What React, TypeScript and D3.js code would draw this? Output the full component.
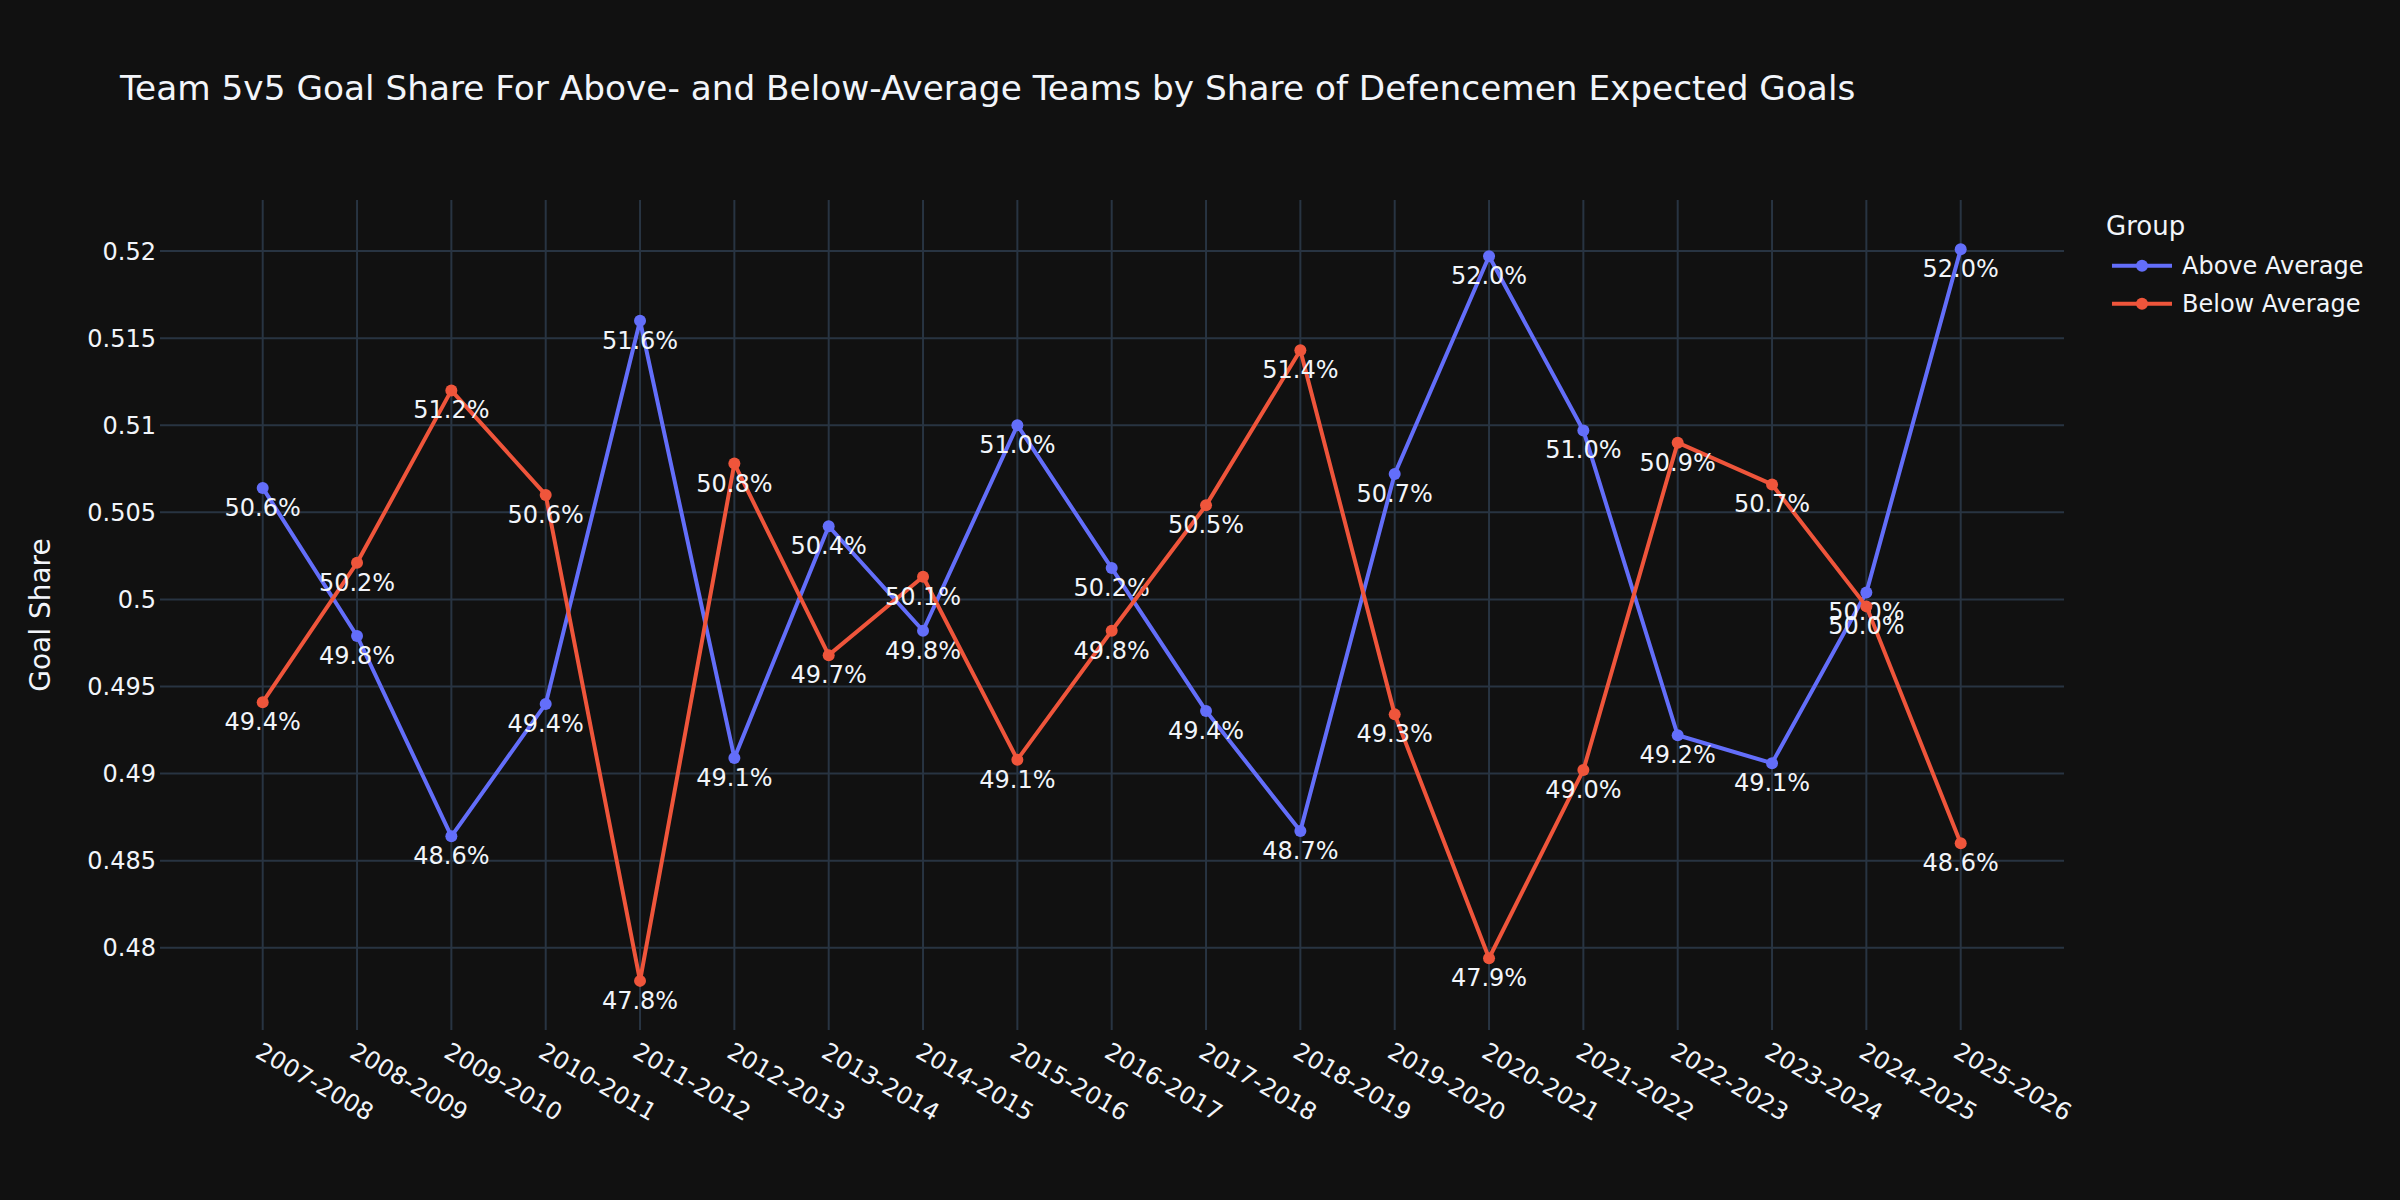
import React, { useEffect } from "react";
import * as d3 from "d3";

const seasons = [
  "2007-2008", "2008-2009", "2009-2010", "2010-2011", "2011-2012", "2012-2013",
  "2013-2014", "2014-2015", "2015-2016", "2016-2017", "2017-2018", "2018-2019",
  "2019-2020", "2020-2021", "2021-2022", "2022-2023", "2023-2024", "2024-2025", "2025-2026",
];
const aboveAverage = [
  0.5064, 0.4979, 0.4864, 0.494, 0.516, 0.4909, 0.5042, 0.4982, 0.51, 0.5018,
  0.4936, 0.4867, 0.5072, 0.5197, 0.5097, 0.4922, 0.4906, 0.5004, 0.5201,
];
const belowAverage = [
  0.4941, 0.5021, 0.512, 0.506, 0.4781, 0.5078, 0.4968, 0.5013, 0.4908, 0.4982,
  0.5054, 0.5143, 0.4934, 0.4794, 0.4902, 0.509, 0.5066, 0.4996, 0.486,
];
const seriesNames = ["Above Average", "Below Average"];
const seriesColors = ["#636efa", "#EF553B"];
const titleText =
  "Team 5v5 Goal Share For Above- and Below-Average Teams by Share of Defencemen Expected Goals";
const yTitle = "Goal Share";
const legendTitle = "Group";

const W = 2400;
const H = 1200;
const plot = { left: 160, right: 2064, top: 200, bottom: 1030 };
const FONT = "'DejaVu Sans', Verdana, sans-serif";
const TEXT = "#f2f5fa";
const GRID = "#283442";

export default function App() {
  useEffect(() => {
    document.body.style.margin = "0";
    document.body.style.background = "#111111";
  }, []);

  const x = d3
    .scalePoint<string>()
    .domain(seasons)
    .range([262.7, 1960.7]);
  const y = d3.scaleLinear().domain([0.47528, 0.52293]).range([plot.bottom, plot.top]);
  const yTicks = y.ticks(10);
  const fmtTick = d3.format("~g");
  const fmtPct = d3.format(".1%");

  const series = [aboveAverage, belowAverage];
  const line = d3
    .line<number>()
    .x((_, i) => x(seasons[i]) as number)
    .y((d) => y(d));

  return (
    <svg width={W} height={H} style={{ display: "block", background: "#111111" }} fontFamily={FONT}>
      <rect x={0} y={0} width={W} height={H} fill="#111111" />
      {/* grid */}
      <g>
        {seasons.map((s) => (
          <line key={s} x1={x(s)} x2={x(s)} y1={plot.top} y2={plot.bottom} stroke={GRID} strokeWidth={2} />
        ))}
        {yTicks.map((t) => (
          <line key={t} x1={plot.left} x2={plot.right} y1={y(t)} y2={y(t)} stroke={GRID} strokeWidth={2} />
        ))}
      </g>
      {/* y tick labels */}
      <g fill={TEXT} fontSize={24} textAnchor="end">
        {yTicks.map((t) => (
          <text key={t} x={156} y={y(t)} dy="0.36em">
            {fmtTick(t)}
          </text>
        ))}
      </g>
      {/* x tick labels */}
      <g fill={TEXT} fontSize={24}>
        {seasons.map((s) => (
          <text key={s} transform={`translate(${x(s)},${plot.bottom + 11}) rotate(30)`} x={0} y={17.5} textAnchor="start">
            {s}
          </text>
        ))}
      </g>
      {/* y title */}
      <text
        transform={`translate(50,${(plot.top + plot.bottom) / 2}) rotate(-90)`}
        textAnchor="middle"
        fontSize={28}
        fill={TEXT}
      >
        {yTitle}
      </text>
      {/* title */}
      <text x={120} y={100} fontSize={34.3} fill={TEXT}>
        {titleText}
      </text>
      {/* series */}
      {series.map((vals, si) => (
        <g key={si}>
          <path d={line(vals) || ""} fill="none" stroke={seriesColors[si]} strokeWidth={4} strokeLinejoin="round" />
          {vals.map((v, i) => (
            <circle key={i} cx={x(seasons[i])} cy={y(v)} r={6} fill={seriesColors[si]} />
          ))}
          {vals.map((v, i) => (
            <text key={"t" + i} x={x(seasons[i])} y={y(v) + 28} textAnchor="middle" fontSize={24} fill={TEXT}>
              {fmtPct(v)}
            </text>
          ))}
        </g>
      ))}
      {/* legend */}
      <g>
        <text x={2106} y={235} fontSize={26} fill={TEXT}>
          {legendTitle}
        </text>
        {seriesNames.map((n, i) => {
          const ly = 265.7 + i * 38;
          return (
            <g key={n}>
              <line x1={2112} x2={2172} y1={ly} y2={ly} stroke={seriesColors[i]} strokeWidth={4} />
              <circle cx={2142} cy={ly} r={6} fill={seriesColors[i]} />
              <text x={2182} y={ly} dy="0.36em" fontSize={24} fill={TEXT}>
                {n}
              </text>
            </g>
          );
        })}
      </g>
    </svg>
  );
}
